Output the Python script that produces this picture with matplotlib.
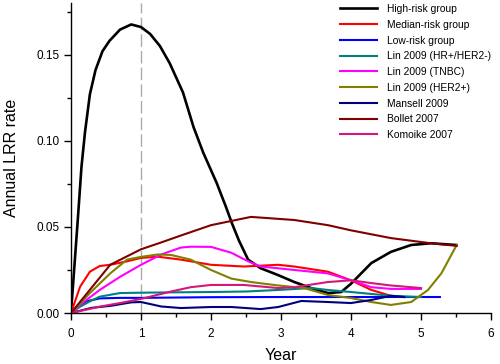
import matplotlib
matplotlib.use("Agg")
import matplotlib.pyplot as plt
from matplotlib.ticker import MultipleLocator, FormatStrFormatter

plt.rcParams['font.family'] = ['Liberation Sans', 'DejaVu Sans']

# values (year, annual LRR rate)
high_t = [0, 0.05, 0.1, 0.15, 0.2, 0.27, 0.35, 0.45, 0.55, 0.7, 0.86, 1.0, 1.13, 1.27, 1.41,
          1.6, 1.75, 1.89, 2.08, 2.21, 2.3, 2.4, 2.53, 2.71, 2.96, 3.19, 3.43, 3.67, 3.86, 4.0,
          4.29, 4.57, 4.86, 5.14, 5.5]
high_v = [0, 0.028, 0.056, 0.085, 0.105, 0.127, 0.141, 0.152, 0.158, 0.1645, 0.1675, 0.166, 0.162,
          0.155, 0.145, 0.128, 0.108, 0.093, 0.0756, 0.062, 0.052, 0.042, 0.031, 0.026, 0.022, 0.018,
          0.0145, 0.0116, 0.0122, 0.017, 0.029, 0.0355, 0.0395, 0.0405, 0.0395]

median_t = [0, 0.13, 0.27, 0.41, 0.56, 0.8, 1.0, 1.24, 1.57, 2.0, 2.47, 2.96, 3.19, 3.67, 4.0, 4.29,
            4.57, 4.76]
median_v = [0, 0.0153, 0.024, 0.0273, 0.028, 0.030, 0.032, 0.0327, 0.031, 0.028, 0.027, 0.028, 0.027,
            0.024, 0.019, 0.0134, 0.010, 0.0093]

low_t = [0, 0.1, 0.22, 0.41, 0.7, 1.0, 2.0, 3.0, 4.0, 5.27]
low_v = [0, 0.0035, 0.0068, 0.0085, 0.0088, 0.0088, 0.0092, 0.0093, 0.0093, 0.0093]

lin_hr_t = [0, 0.13, 0.27, 0.41, 0.7, 1.0, 1.43, 2.0, 2.5, 2.96, 3.43, 3.67, 4.0, 4.57, 5.0]
lin_hr_v = [0, 0.0037, 0.0068, 0.0095, 0.0116, 0.0118, 0.012, 0.0122, 0.0125, 0.0134, 0.0145, 0.0134,
            0.0122, 0.010, 0.0093]

lin_tnbc_t = [0, 0.13, 0.41, 0.7, 1.0, 1.29, 1.57, 1.71, 2.0, 2.29, 2.53, 2.71, 3.19, 3.67, 4.0, 4.29,
              4.57, 5.0]
lin_tnbc_v = [0, 0.0048, 0.0134, 0.021, 0.028, 0.034, 0.038, 0.0385, 0.0384, 0.035, 0.030, 0.027, 0.025,
              0.023, 0.019, 0.015, 0.014, 0.014]

lin_her2_t = [0, 0.13, 0.27, 0.56, 0.8, 1.0, 1.24, 1.43, 1.71, 2.0, 2.29, 2.57, 2.96, 3.33, 3.67, 4.0,
              4.29, 4.57, 4.86, 5.1, 5.29, 5.51]
lin_her2_v = [0, 0.0055, 0.0116, 0.023, 0.031, 0.0326, 0.034, 0.0337, 0.031, 0.025, 0.020, 0.018, 0.016,
              0.0145, 0.0105, 0.0087, 0.0064, 0.0047, 0.0064, 0.0134, 0.023, 0.0395]

mansell_t = [0, 0.29, 0.57, 0.86, 1.0, 1.29, 1.57, 2.0, 2.29, 2.71, 2.96, 3.29, 3.67, 4.0, 4.29, 4.57, 4.76]
mansell_v = [0, 0.003, 0.0042, 0.0062, 0.0064, 0.0038, 0.0029, 0.0035, 0.0035, 0.0023, 0.0035, 0.007,
             0.0064, 0.0058, 0.0076, 0.010, 0.0093]

bollet_t = [0, 0.27, 0.56, 1.0, 1.29, 1.57, 2.0, 2.57, 3.19, 3.67, 4.0, 4.57, 5.14, 5.51]
bollet_v = [0, 0.0135, 0.028, 0.037, 0.041, 0.045, 0.051, 0.0558, 0.054, 0.051, 0.048, 0.0435, 0.0405, 0.039]

komoike_t = [0, 0.41, 0.7, 1.0, 1.43, 1.71, 2.0, 2.47, 2.96, 3.19, 3.67, 4.0, 4.29, 4.57, 5.0]
komoike_v = [0, 0.0037, 0.0058, 0.0082, 0.0125, 0.015, 0.0163, 0.0163, 0.0145, 0.015, 0.018, 0.019,
             0.0174, 0.016, 0.0145]

series = [
    ("High-risk group", high_t, high_v, "#000000", 1.9),
    ("Median-risk group", median_t, median_v, "#ff0000", 1.5),
    ("Low-risk group", low_t, low_v, "#0000ff", 1.5),
    ("Lin 2009 (HR+/HER2-)", lin_hr_t, lin_hr_v, "#008080", 1.5),
    ("Lin 2009 (TNBC)", lin_tnbc_t, lin_tnbc_v, "#ff00ff", 1.5),
    ("Lin 2009 (HER2+)", lin_her2_t, lin_her2_v, "#808000", 1.5),
    ("Mansell 2009", mansell_t, mansell_v, "#000080", 1.5),
    ("Bollet 2007", bollet_t, bollet_v, "#800000", 1.5),
    ("Komoike 2007", komoike_t, komoike_v, "#d4177a", 1.5),
]

fig = plt.figure(figsize=(5, 3.64), dpi=100)
ax = fig.add_axes([0.142, 0.140, 0.840, 0.852])

ax.axvline(1, color="#aaaaaa", lw=1.0, dashes=(9, 3), zorder=1)

for name, t, v, c, lw in series:
    ax.plot(t, v, color=c, lw=lw, label=name, solid_joinstyle="round", zorder=2)

ax.set_xlim(0, 6)
ax.set_ylim(0, 0.18)
ax.xaxis.set_major_locator(MultipleLocator(1))
ax.xaxis.set_minor_locator(MultipleLocator(0.5))
ax.yaxis.set_major_locator(MultipleLocator(0.05))
ax.yaxis.set_minor_locator(MultipleLocator(0.025))
ax.yaxis.set_major_formatter(FormatStrFormatter("%.2f"))
ax.tick_params(which="major", direction="out", length=5, width=1, labelsize=8.5)
ax.tick_params(axis="x", which="major", pad=5.5)
ax.tick_params(axis="y", which="major", pad=3)
ax.tick_params(which="minor", direction="out", length=3, width=1)
for s in ["top", "right"]:
    ax.spines[s].set_visible(False)
for s in ["left", "bottom"]:
    ax.spines[s].set_linewidth(1)

ax.set_xlabel("Year", fontsize=11.5, labelpad=6)
ax.set_ylabel("Annual LRR rate", fontsize=11.5, labelpad=13)

ax.legend(loc="upper left", bbox_to_anchor=(0.68, 0.989), bbox_transform=fig.transFigure,
          frameon=False, fontsize=7.4, handlelength=3.6, handletextpad=1.0,
          labelspacing=0.56, borderpad=0, borderaxespad=0)

fig.savefig("out.png", dpi=100)
